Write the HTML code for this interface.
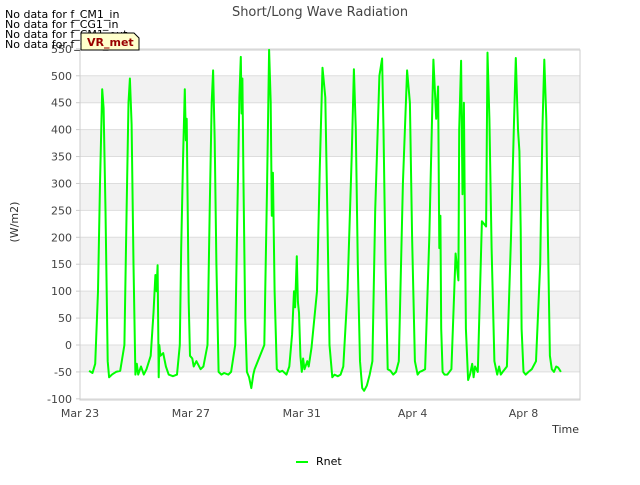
<!DOCTYPE html>
<html><head><meta charset="utf-8"><style>
body{margin:0;background:#fff;font-family:"Liberation Sans","DejaVu Sans",sans-serif;}
</style></head><body>
<svg id="chart" width="640" height="480" xmlns="http://www.w3.org/2000/svg" font-family="DejaVu Sans, Liberation Sans, sans-serif">
<text x="320" y="16" text-anchor="middle" font-size="13" fill="#444">Short/Long Wave Radiation</text>
<g id="bands"></g><g id="grid"></g>
<rect x="80" y="50" width="500" height="350" fill="none" stroke="#ccc"/>
<g id="yticks"></g><g id="xticks"></g>
<text transform="translate(18,222) rotate(-90)" text-anchor="middle" font-size="11" fill="#333">(W/m2)</text>
<text x="579" y="433" text-anchor="end" font-size="11" fill="#333">Time</text>
<g id="series"></g>
<g font-size="11" fill="#000">
<text x="5" y="18">No data for f_CM1_in</text>
<text x="5" y="28">No data for f_CG1_in</text>
<text x="5" y="38">No data for f_CM1_out</text>
<text x="5" y="48">No data for f_CG1_out</text>
</g>
<g>
<path d="M81,33 L134,33 L139,38 L139,50 L81,50 Z" fill="#ffffcc" stroke="#000" stroke-width="1"/>
<text x="87" y="46" font-size="11" font-weight="bold" fill="#990000">VR_met</text>
</g>
<g>
<line x1="296" y1="462" x2="308" y2="462" stroke="#00ff00" stroke-width="2"/>
<text x="316" y="465" font-size="11" fill="#000">Rnet</text>
</g>
</svg>
<script>
const yTicks=[-100,-50,0,50,100,150,200,250,300,350,400,450,500,550];
const xTickDays=[0,4,8,12,16];
const xTickLabels=["Mar 23","Mar 27","Mar 31","Apr 4","Apr 8"];
const grayBands=[[450,500],[350,400],[250,300],[150,200],[50,100],[-50,0]];
const times=[0.33,0.45,0.55,0.65,0.72,0.8,0.85,0.92,1.0,1.05,1.15,1.3,1.45,
1.6,1.68,1.75,1.8,1.86,1.93,2.0,2.05,2.1,2.2,2.3,2.4,
2.55,2.65,2.72,2.76,2.8,2.84,2.86,2.9,3.0,3.1,3.2,3.35,3.5,
3.6,3.65,3.72,3.78,3.82,3.85,3.88,3.92,3.97,4.05,4.1,4.2,4.35,4.45,
4.6,4.68,4.75,4.8,4.86,4.92,5.0,5.1,5.2,5.35,5.45,
5.6,5.68,5.75,5.8,5.83,5.86,5.9,5.96,6.02,6.1,6.18,6.25,6.3,
6.65,6.75,6.82,6.88,6.92,6.96,7.02,7.1,7.2,7.3,7.45,7.55,
7.65,7.72,7.76,7.82,7.86,7.9,7.95,8.0,8.05,8.1,8.2,8.25,8.35,8.55,8.65,
8.75,8.85,8.92,9.0,9.1,9.18,9.3,9.4,9.5,9.65,
9.8,9.88,9.95,10.02,10.1,10.18,10.25,10.35,10.45,10.55,10.65,
10.8,10.9,10.95,11.02,11.1,11.2,11.3,11.4,11.5,11.65,
11.8,11.9,11.98,12.08,12.18,12.25,12.35,12.45,12.6,
12.75,12.85,12.92,12.96,13.0,13.03,13.08,13.15,13.25,13.4,13.55,
13.65,13.68,13.75,13.8,13.85,13.88,13.92,14.0,14.07,14.15,14.2,14.25,14.35,14.5,
14.65,14.7,14.77,14.85,14.95,15.05,15.12,15.18,15.25,15.4,15.55,
15.65,15.72,15.8,15.85,15.9,15.93,16.0,16.08,16.18,16.3,16.45,16.6,
16.68,16.75,16.82,16.88,16.95,17.02,17.1,17.18,17.25,17.35];
const values=[-48,-52,-35,100,300,475,440,250,-30,-60,-55,-50,-48,
0,250,450,495,410,150,-55,-35,-55,-40,-55,-45,
-20,60,130,100,148,-60,0,-20,-15,-40,-55,-58,-55,
0,180,350,475,380,420,270,80,-20,-25,-40,-30,-45,-40,
0,250,450,510,380,150,-50,-55,-52,-55,-50,
0,250,460,535,430,495,300,50,-50,-60,-80,-55,-45,
0,300,548,450,240,320,100,-45,-50,-48,-55,-40,
20,100,70,165,80,60,-20,-50,-25,-45,-30,-40,-5,100,330,
515,460,250,0,-60,-55,-58,-55,-40,100,
350,512,400,150,-30,-80,-85,-75,-55,-30,250,
500,532,400,150,-45,-48,-55,-50,-30,300,
510,450,200,-30,-55,-50,-48,-45,200,
530,420,480,180,240,30,-50,-55,-55,-45,170,
120,400,528,280,450,250,30,-65,-55,-35,-60,-40,-50,230,
220,543,420,180,-30,-55,-40,-55,-50,-40,200,
400,533,400,360,215,30,-50,-55,-50,-45,-30,150,
400,530,420,200,-20,-45,-50,-40,-42,-50];
const NS="http://www.w3.org/2000/svg";
const X0=80,PX_PER_DAY=27.72;
function xScale(t){return X0+t*PX_PER_DAY;}
function yScale(v){return 345-v*(350/650);}
function mk(tag,attrs,parent,txt){const e=document.createElementNS(NS,tag);for(const k in attrs)e.setAttribute(k,attrs[k]);if(txt!==undefined)e.textContent=txt;parent.appendChild(e);return e;}
const bands=document.getElementById('bands');
grayBands.forEach(b=>{const r=mk('rect',{x:80,y:yScale(b[1]),width:500,height:yScale(b[0])-yScale(b[1]),fill:'#f2f2f2'},bands);

});
const grid=document.getElementById('grid'),yt=document.getElementById('yticks');
yTicks.forEach(v=>{const y=yScale(v);
const l=mk('line',{x1:80,x2:580,y1:y,y2:y,stroke:'#ddd','stroke-width':1},grid);


const t=mk('text',{x:72,y:y+4,'text-anchor':'end','font-size':11,fill:'#444'},yt,String(v));


const tk=mk('line',{x1:76,x2:80,y1:y,y2:y,stroke:'#ccc'},yt);

});
const xt=document.getElementById('xticks');
xTickDays.forEach((d,i)=>{const x=xScale(d);
const t=mk('text',{x:x,y:417,'text-anchor':'middle','font-size':11,fill:'#444'},xt,xTickLabels[i]);

});
const pts=times.map((t,i)=>xScale(t).toFixed(1)+','+yScale(values[i]).toFixed(1)).join(' ');
const line=mk('polyline',{points:pts,fill:'none',stroke:'#00ff00','stroke-width':2,'stroke-linejoin':'round'},document.getElementById('series'));


</script>
</body></html>
